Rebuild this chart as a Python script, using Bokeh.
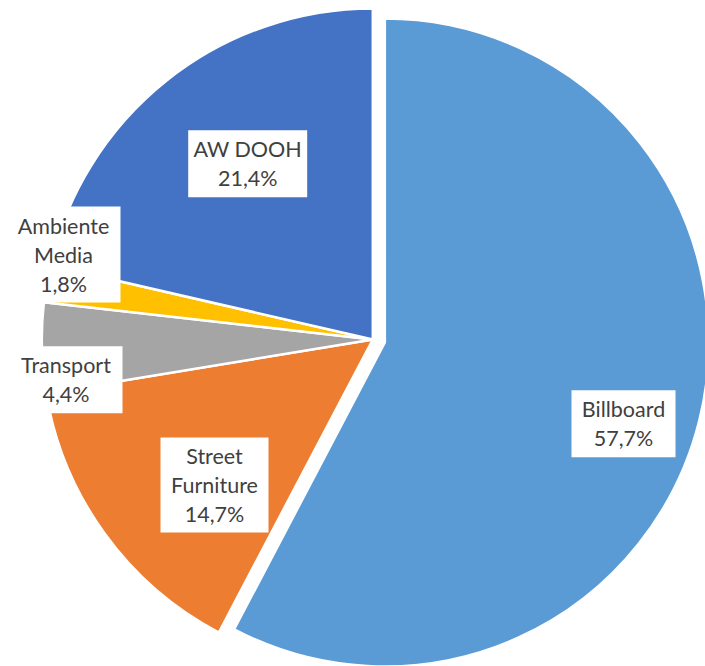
import math
from bokeh.plotting import figure
from bokeh.models import ColumnDataSource
from bokeh.embed import file_html
from bokeh.resources import INLINE
from bokeh.core.properties import value

# Market shares of out-of-home media types (percent)
categories = ["Billboard", "Street Furniture", "Transport", "Ambiente Media", "AW DOOH"]
shares = [57.7, 14.7, 4.4, 1.8, 21.4]
label_lines = [["Billboard"], ["Street", "Furniture"], ["Transport"], ["Ambiente", "Media"], ["AW DOOH"]]
colors = ["#5B9BD5", "#ED7D31", "#A5A5A5", "#FFC000", "#4472C4"]

# Canvas and pie geometry (pixels)
W, H = 705, 666
CX, CY = 372.3, H - 339.0
R_MAIN = 331.0
R_EXPLODED = 324.0
EXPLODE = {"Billboard": 12.4}

# Label box centres (screen coords, y down) and box sizes
label_box = {
    "Billboard": (623.0, 423.3, 104, 67),
    "Street Furniture": (214.0, 484.5, 108, 95),
    "Transport": (65.5, 379.3, 113, 67),
    "Ambiente Media": (63.0, 254.0, 114, 96),
    "AW DOOH": (247.2, 163.3, 119, 67),
}
LINE_H = 29.0

p = figure(width=W, height=H, x_range=(0, W), y_range=(0, H),
           output_backend="svg", toolbar_location=None, min_border=0)
p.axis.visible = False
p.grid.visible = False
p.outline_line_color = None
p.background_fill_color = "white"

total = sum(shares)
wx, wy, wr, ws, we, wc = [], [], [], [], [], []
cum = 0.0
for cat, v, col in zip(categories, shares, colors):
    a0 = math.pi / 2 - 2 * math.pi * cum / total
    cum += v
    a1 = math.pi / 2 - 2 * math.pi * cum / total
    mid = (a0 + a1) / 2
    d = EXPLODE.get(cat, 0.0)
    wx.append(CX + d * math.cos(mid))
    wy.append(CY + d * math.sin(mid))
    wr.append(R_EXPLODED if d else R_MAIN)
    ws.append(a0)
    we.append(a1)
    wc.append(col)

src = ColumnDataSource(dict(x=wx, y=wy, r=wr, start=ws, end=we, color=wc, cat=categories))
p.wedge(x="x", y="y", radius="r", start_angle="start", end_angle="end",
        direction="clock", fill_color="color", line_color="white", line_width=2.5,
        source=src)

# Data labels: white boxes with category name and share
bx, by, bw, bh = [], [], [], []
tx, ty, tt = [], [], []
for cat, v, lines in zip(categories, shares, label_lines):
    cx, cy_s, w, h = label_box[cat]
    cy = H - cy_s
    bx.append(cx); by.append(cy); bw.append(w); bh.append(h)
    texts = lines + [f"{v:.1f}%".replace(".", ",")]
    n = len(texts)
    for i, t in enumerate(texts):
        tx.append(cx)
        ty.append(cy + ((n - 1) / 2 - i) * LINE_H)
        tt.append(t)

p.rect(x=bx, y=by, width=bw, height=bh, fill_color="white", line_color=None)
p.text(x=tx, y=ty, text=tt, text_font=value("Lato"), text_font_size="21.5px",
       text_color="#404040", text_align="center", text_baseline="middle")

open("out.html", "w").write(file_html(p, INLINE))
